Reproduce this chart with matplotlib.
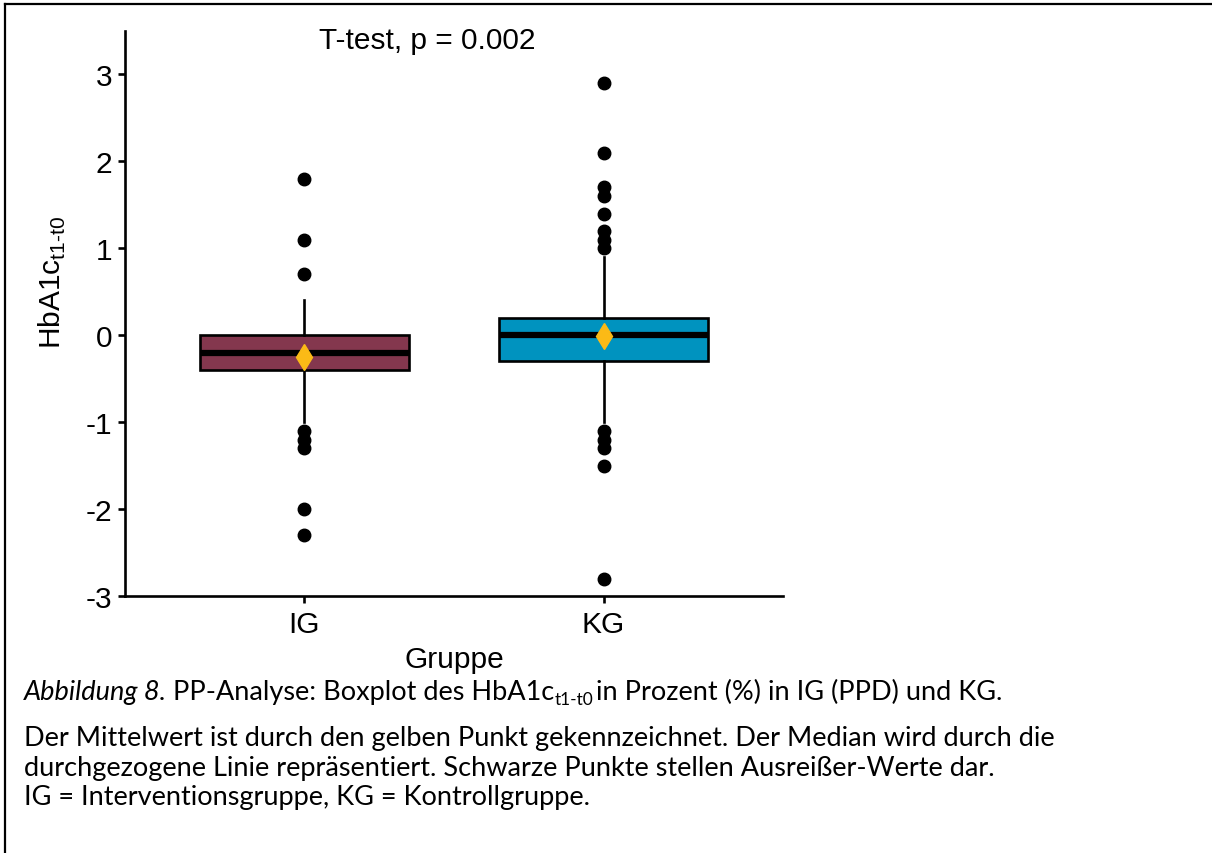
import matplotlib
matplotlib.use("Agg")
import matplotlib.pyplot as plt
from matplotlib.lines import Line2D

plt.rcParams['font.family'] = ['Liberation Sans', 'DejaVu Sans']
plt.rcParams['mathtext.fontset'] = 'custom'
plt.rcParams['mathtext.rm'] = 'Liberation Sans'

# data
groups = ['IG', 'KG']
q1 = [-0.4, -0.3]
median = [-0.2, 0.0]
q3 = [0.0, 0.2]
whisker_low = [-1.0, -1.0]
whisker_high = [0.4, 0.9]
means = [-0.25, -0.01]
outliers_ig = [1.8, 1.1, 0.7, -1.1, -1.2, -1.3, -2.0, -2.3]
outliers_kg = [2.9, 2.1, 1.7, 1.6, 1.4, 1.2, 1.1, 1.0, -1.1, -1.2, -1.3, -1.5, -2.8]
box_colors = ['#84374E', '#0093BF']
p_label = 'T-test, p = 0.002'

W, H = 1212, 854
fig = plt.figure(figsize=(W / 100, H / 100), dpi=100)
ax = fig.add_axes([125 / W, 1 - 597 / H, (783 - 125) / W, (597 - 32) / H])

stats = []
for i, fl in enumerate([outliers_ig, outliers_kg]):
    stats.append(dict(med=median[i], q1=q1[i], q3=q3[i], whislo=whisker_low[i],
                      whishi=whisker_high[i], fliers=fl, mean=means[i], label=groups[i]))

pos = [1, 2]
bp = ax.bxp(stats, positions=pos, widths=0.7, patch_artist=True, showcaps=False,
            showmeans=True,
            boxprops=dict(linewidth=1.9, edgecolor='black'),
            medianprops=dict(color='black', linewidth=4.5, solid_capstyle='butt'),
            whiskerprops=dict(color='black', linewidth=1.9),
            flierprops=dict(marker='o', markerfacecolor='black', markeredgecolor='black',
                            markersize=9),
            meanprops=dict(marker='d', markerfacecolor='#FBBA16', markeredgecolor='#FBBA16',
                           markersize=13))
for patch, c in zip(bp['boxes'], box_colors):
    patch.set_facecolor(c)

ax.set_xlim(0.4, 2.6)
ax.set_ylim(-3, 3.5)
ax.set_yticks([-3, -2, -1, 0, 1, 2, 3])
ax.set_yticklabels(['-3', '-2', '-1', '0', '1', '2', '3'])
ax.spines['top'].set_visible(False)
ax.spines['right'].set_visible(False)
for s in ['left', 'bottom']:
    ax.spines[s].set_linewidth(1.9)
ax.tick_params(axis='both', length=5, width=1.9, labelsize=21.5, colors='black')
ax.tick_params(axis='x', pad=5)
ax.tick_params(axis='y', pad=4)

ax.set_xlabel('Gruppe', fontsize=21.5, labelpad=5)
ax.set_ylabel(r'HbA1c$_{\text{t1-t0}}$', fontsize=21.5)
ax.yaxis.set_label_coords(-0.087, 0.556)

ax.text(1.05, 3.4, p_label, fontsize=21.5, ha='left', va='center')

# frame of the figure (top and left edges visible)
fig.add_artist(Line2D([5 / W, 5 / W], [0, 1 - 5 / H], color='black', linewidth=1.6))
fig.add_artist(Line2D([5 / W, 1], [1 - 5 / H, 1 - 5 / H], color='black', linewidth=1.6))

# caption
cap_font = ['Lato', 'DejaVu Sans']
cap_size = 19.5
renderer = fig.canvas.get_renderer()


def put(x_px, y_px, s, **kw):
    t = fig.text(x_px / W, 1 - y_px / H, s, va='baseline', ha='left',
                 family=cap_font, fontsize=kw.pop('size', cap_size), **kw)
    return t, t.get_window_extent(renderer).x1


x0 = 24
t, x = put(x0, 700, 'Abbildung 8.', style='italic')
t, x = put(x + 6, 700, 'PP-Analyse: Boxplot des HbA1c')
t, x = put(x, 705, 't1-t0', size=12.5)
t, x = put(x + 3, 700, 'in Prozent (%) in IG (PPD) und KG.')

put(x0, 746, 'Der Mittelwert ist durch den gelben Punkt gekennzeichnet. Der Median wird durch die')
put(x0, 776, 'durchgezogene Linie repräsentiert. Schwarze Punkte stellen Ausreißer-Werte dar.')
put(x0, 805, 'IG = Interventionsgruppe, KG = Kontrollgruppe.')

fig.savefig('out.png', dpi=100)
